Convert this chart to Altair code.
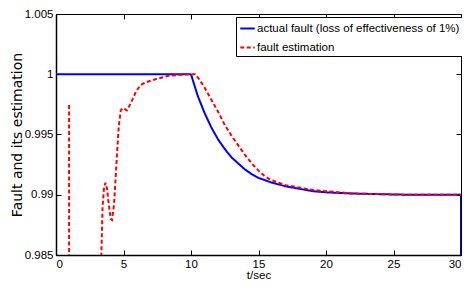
import altair as alt
import pandas as pd

blue_label = "actual fault (loss of effectiveness of 1%)"
red_label = "fault estimation"

blue_t = [0, 10, 10.25, 10.5, 10.75, 11, 11.5, 12, 12.5, 13, 13.5, 14, 14.5, 15, 16,
          17, 18, 19, 20, 22, 24, 26, 30, 30]
blue_v = [1.0, 1.0, 0.9991, 0.9982, 0.9975, 0.9968, 0.9956, 0.9946, 0.9938, 0.9931,
          0.9926, 0.9921, 0.9917, 0.9914, 0.9910, 0.9907, 0.9905, 0.9903, 0.9902,
          0.9901, 0.99005, 0.9900, 0.9900, 0.980]

# red estimate: a short spike near t = 1, then the main response from t = 3.25
red_spike_t = [0.97, 0.97]
red_spike_v = [0.975, 0.99745]

red_t = [3.25, 3.45, 3.55, 3.66, 3.78, 3.9, 4.05, 4.15, 4.3, 4.5,
         4.65, 4.8, 4.95, 5.1, 5.25, 5.45, 5.7, 5.93, 6.27, 6.63, 7.37, 8.34, 9.8,
         10.3, 10.6, 11, 11.5, 12, 12.5, 13, 13.5, 14, 14.5, 15, 15.5, 16, 16.5, 17,
         18, 19, 20, 22, 24, 26, 30]
red_v = [0.980, 0.9890, 0.9905, 0.9910, 0.9905, 0.9893,
         0.9880, 0.9879, 0.9892, 0.9930, 0.9957, 0.9970, 0.9972, 0.9971, 0.9970,
         0.9974, 0.9980, 0.99858, 0.9991, 0.99932, 0.99959, 0.99987, 1.0,
         1.0, 0.9996, 0.9989, 0.9979, 0.9969, 0.9958, 0.9949, 0.9941, 0.9933, 0.9926,
         0.9920, 0.9915, 0.9912, 0.9910, 0.9908, 0.9906, 0.9904, 0.9903, 0.9901,
         0.99005, 0.9900, 0.9900]

x_ticks = [0, 5, 10, 15, 20, 25, 30]
y_ticks = [0.985, 0.99, 0.995, 1.0, 1.005]

rows = []
for i, (t, v) in enumerate(zip(blue_t, blue_v)):
    rows.append({"series": blue_label, "seg": "b", "t": t, "v": v, "idx": i})
for i, (t, v) in enumerate(zip(red_spike_t, red_spike_v)):
    rows.append({"series": red_label, "seg": "r0", "t": t, "v": v, "idx": i})
for i, (t, v) in enumerate(zip(red_t, red_v)):
    rows.append({"series": red_label, "seg": "r1", "t": t, "v": v, "idx": i})
df = pd.DataFrame(rows)

FONT = "Liberation Sans"
xscale = alt.Scale(domain=[0, 30], nice=False, zero=False)
yscale = alt.Scale(domain=[0.985, 1.005], nice=False, zero=False)

legend = alt.Legend(
    title=None, orient="none", legendX=180, legendY=3,
    fillColor="white", strokeColor="black", padding=3,
    labelFont=FONT, labelFontSize=11.5, labelLimit=400, labelOffset=1,
    symbolType="stroke", symbolStrokeWidth=2, symbolSize=210, rowPadding=5,
)

main = alt.Chart(df).mark_line(clip=True, strokeWidth=2).encode(
    x=alt.X("t:Q", scale=xscale, axis=alt.Axis(
        values=x_ticks, title="t/sec", tickSize=0, domain=True, domainColor="black",
        domainWidth=1.5, labelPadding=3, titlePadding=0, grid=False, format="d",
        labelFont=FONT, titleFont=FONT, labelFontSize=11.5, titleFontSize=11.5,
        titleFontWeight="normal", labelColor="black", titleColor="black")),
    y=alt.Y("v:Q", scale=yscale, axis=alt.Axis(
        values=y_ticks, title="Fault and its estimation", tickSize=0, domain=True,
        domainColor="black", domainWidth=1.5, labelPadding=3, titlePadding=0,
        grid=False, labelFont=FONT, titleFont="DejaVu Sans", labelFontSize=11.5,
        titleFontSize=14, titleFontWeight="normal", labelColor="black",
        titleColor="black", labelExpr="format(datum.value, '~g')")),
    color=alt.Color("series:N", scale=alt.Scale(domain=[blue_label, red_label],
                                                range=["#0000ff", "#ff0000"]),
                    legend=legend),
    strokeDash=alt.StrokeDash("series:N", scale=alt.Scale(domain=[blue_label, red_label],
                                                          range=[[1, 0], [4, 2.5]]),
                              legend=legend),
    detail="seg:N",
    order=alt.Order("idx:Q"),
)

tick_axis = dict(ticks=True, tickSize=5, tickColor="black", tickWidth=1, domain=False,
                 labels=False, title=None, grid=False, offset=-5)

ticks_bl = alt.Chart(df).mark_point(opacity=0).encode(
    x=alt.X("t:Q", scale=xscale, axis=alt.Axis(values=x_ticks, orient="bottom", **tick_axis)),
    y=alt.Y("v:Q", scale=yscale, axis=alt.Axis(values=y_ticks, orient="left", **tick_axis)),
)
ticks_tr = alt.Chart(df).mark_point(opacity=0).encode(
    x=alt.X("t:Q", scale=xscale, axis=alt.Axis(values=x_ticks, orient="top", **tick_axis)),
    y=alt.Y("v:Q", scale=yscale, axis=alt.Axis(values=y_ticks, orient="right", **tick_axis)),
)

chart = alt.layer(main, ticks_bl, ticks_tr).resolve_axis(
    x="independent", y="independent"
).properties(
    width=405, height=241,
    autosize=alt.AutoSizeParams(type="none"),
    padding={"left": 48, "top": 6, "right": 1, "bottom": 25},
).configure_view(stroke="black", strokeWidth=1)

chart.save("out.html", embed_options={"renderer": "svg", "actions": False})
